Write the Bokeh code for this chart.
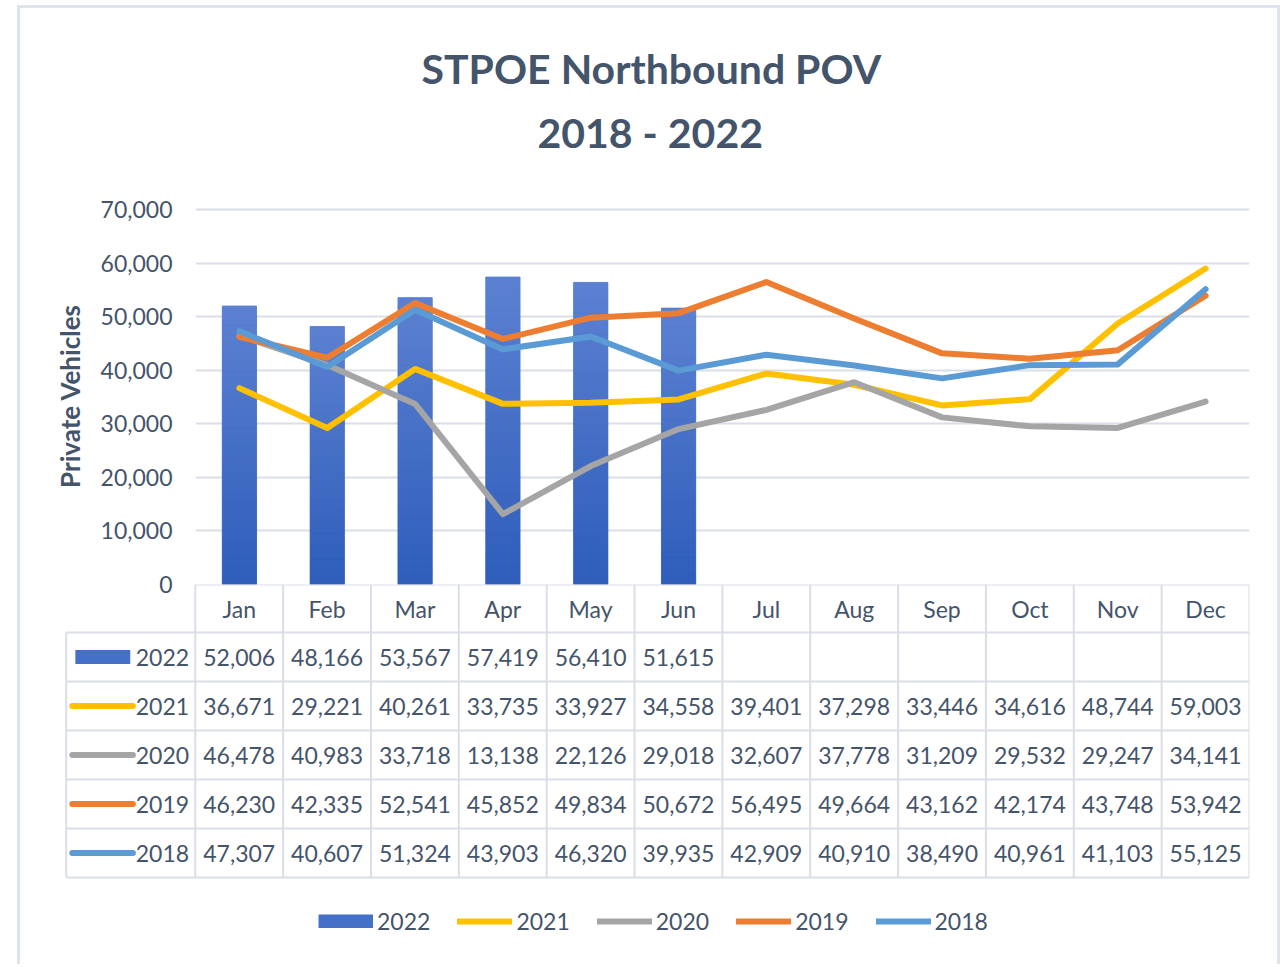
from bokeh.plotting import figure
from bokeh.models import Range1d, FixedTicker, NumeralTickFormatter, Title, Legend, LegendItem
from bokeh.layouts import column
from bokeh.embed import file_html
from bokeh.resources import INLINE
from bokeh.core.properties import value

# ---------------- data ----------------
months = ["Jan", "Feb", "Mar", "Apr", "May", "Jun", "Jul", "Aug", "Sep", "Oct", "Nov", "Dec"]
years = ["2022", "2021", "2020", "2019", "2018"]
v2022 = [52006, 48166, 53567, 57419, 56410, 51615]
v2021 = [36671, 29221, 40261, 33735, 33927, 34558, 39401, 37298, 33446, 34616, 48744, 59003]
v2020 = [46478, 40983, 33718, 13138, 22126, 29018, 32607, 37778, 31209, 29532, 29247, 34141]
v2019 = [46230, 42335, 52541, 45852, 49834, 50672, 56495, 49664, 43162, 42174, 43748, 53942]
v2018 = [47307, 40607, 51324, 43903, 46320, 39935, 42909, 40910, 38490, 40961, 41103, 55125]
y_ticks = [0, 10000, 20000, 30000, 40000, 50000, 60000, 70000]
series = [v2022, v2021, v2020, v2019, v2018]

# ---------------- style ----------------
FONT = "Lato"
TXT = "#44546a"
GRID = "#d9dee7"
BORDER = "3px solid #dfe4ec"
BAR = "#4470c8"
BAR_TOP = (0x5c, 0x81, 0xd1)
BAR_BOTTOM = (0x2e, 0x5d, 0xbb)
LINE_COLORS = {"2021": "#ffc000", "2020": "#a5a5a5", "2019": "#ed7d31", "2018": "#5b9bd5"}
W = 1257
FS = "23px"

xs = [i + 0.5 for i in range(len(months))]

# ---------------- chart ----------------
fa = figure(width=W, height=596, x_range=Range1d(0, 12), y_range=Range1d(0, 70400),
            output_backend="svg", toolbar_location=None, x_axis_location=None,
            min_border_left=175, min_border_right=28, min_border_top=199, min_border_bottom=20)
fa.outline_line_color = None
fa.background_fill_color = "white"
fa.border_fill_color = "white"

# spacer between plot area and subtitle, then subtitle, then main title
fa.add_layout(Title(text=" ", text_font_size="1px", standoff=41), "above")
fa.add_layout(Title(text="2018 - 2022", align="left", offset=342, text_font=FONT,
                    text_font_size="41px", text_font_style="bold", text_color=TXT,
                    standoff=13), "above")
fa.add_layout(Title(text="STPOE Northbound POV", align="left", offset=226, text_font=FONT,
                    text_font_size="41px", text_font_style="bold", text_color=TXT,
                    standoff=13), "above")

# 2022 bars: solid base, then a vertical gradient (light top, dark bottom) built from bands
fa.vbar(x=xs[:len(v2022)], top=v2022, width=0.39, fill_color=BAR, line_color=None)
N_BANDS = 30
bx, bbot, btop, bcol = [], [], [], []
for x, v in zip(xs, v2022):
    for k in range(N_BANDS):
        t = (k + 0.5) / N_BANDS  # 0 bottom -> 1 top
        c = tuple(int(round(BAR_BOTTOM[j] + (BAR_TOP[j] - BAR_BOTTOM[j]) * t)) for j in range(3))
        bx.append(x)
        bbot.append(v * k / N_BANDS)
        btop.append(v * (k + 1) / N_BANDS)
        bcol.append("#%02x%02x%02x" % c)
fa.vbar(x=bx, bottom=bbot, top=btop, width=0.39, fill_color=bcol, line_color=bcol, line_width=0.8)

for yr, vals in zip(years[1:], series[1:]):
    fa.line(x=xs, y=vals, line_color=LINE_COLORS[yr], line_width=6,
            line_join="round", line_cap="round")

fa.xgrid.visible = False
fa.ygrid.ticker = FixedTicker(ticks=y_ticks)
fa.ygrid.grid_line_color = GRID
fa.ygrid.grid_line_width = 2
fa.yaxis.ticker = FixedTicker(ticks=y_ticks)
fa.yaxis.formatter = NumeralTickFormatter(format="0,0")
fa.yaxis.axis_line_color = None
fa.yaxis.major_tick_line_color = None
fa.yaxis.minor_tick_line_color = None
fa.yaxis.major_label_standoff = 17
fa.yaxis.major_label_text_font = FONT
fa.yaxis.major_label_text_font_size = FS
fa.yaxis.major_label_text_color = TXT
fa.yaxis.axis_label = "Private Vehicles"
fa.yaxis.axis_label_text_font = FONT
fa.yaxis.axis_label_text_font_style = "bold"
fa.yaxis.axis_label_text_font_size = "26px"
fa.yaxis.axis_label_text_color = TXT
fa.yaxis.axis_label_standoff = 12

# ---------------- data table ----------------
HEADER_H = 48
ROW_H = 49
TABLE_LEFT = -1.469
n_rows = len(years)
table_bottom = HEADER_H + ROW_H * n_rows
FRAME_H = 380

fb = figure(width=W, height=FRAME_H + 20, x_range=Range1d(-1.5, 12), y_range=Range1d(FRAME_H, 0),
            output_backend="svg", toolbar_location=None, x_axis_location=None, y_axis_location=None,
            min_border_left=43, min_border_right=28, min_border_top=20, min_border_bottom=0)
fb.outline_line_color = None
fb.grid.visible = False
fb.border_fill_alpha = 0
fb.background_fill_alpha = 0

# horizontal borders
hx0 = [0] + [TABLE_LEFT] * (n_rows + 1)
hx1 = [12] * (n_rows + 2)
hy = [0] + [HEADER_H + ROW_H * k for k in range(n_rows + 1)]
fb.segment(x0=hx0, y0=hy, x1=hx1, y1=hy, line_color=GRID, line_width=2)
# vertical borders
vx = list(range(len(months) + 1)) + [TABLE_LEFT]
vy0 = [0] * (len(months) + 1) + [HEADER_H]
vy1 = [table_bottom] * (len(months) + 2)
fb.segment(x0=vx, y0=vy0, x1=vx, y1=vy1, line_color=GRID, line_width=2)

# month headers
fb.text(x=xs, y=[HEADER_H / 2] * len(months), text=months, text_align="center",
        text_baseline="middle", text_font=value(FONT), text_font_size=FS, text_color=TXT)

# values
for r, vals in enumerate(series):
    yc = HEADER_H + ROW_H * (r + 0.5)
    fb.text(x=xs[:len(vals)], y=[yc] * len(vals), text=[f"{v:,}" for v in vals],
            text_align="center", text_baseline="middle", text_font=value(FONT),
            text_font_size=FS, text_color=TXT)

# row labels + swatches
row_c = [HEADER_H + ROW_H * (r + 0.5) for r in range(n_rows)]
fb.text(x=[-0.07] * n_rows, y=row_c, text=years, text_align="right", text_baseline="middle",
        text_font=value(FONT), text_font_size=FS, text_color=TXT)

legend_renderers = []
rb = fb.segment(x0=[-1.365], y0=[row_c[0]], x1=[-0.74], y1=[row_c[0]],
                line_color=BAR, line_width=14, line_cap="butt")
legend_renderers.append(rb)
for r, yr in enumerate(years[1:], start=1):
    rl = fb.segment(x0=[-1.40], y0=[row_c[r]], x1=[-0.71], y1=[row_c[r]],
                    line_color=LINE_COLORS[yr], line_width=6, line_cap="round")
    legend_renderers.append(rl)

legend = Legend(items=[LegendItem(label=yr, renderers=[rr]) for yr, rr in zip(years, legend_renderers)],
                orientation="horizontal", location=(255, 29), glyph_width=55, glyph_height=14,
                label_standoff=4, spacing=27, padding=0, margin=0, border_line_color=None,
                background_fill_alpha=0, label_text_font=FONT, label_text_font_size=FS,
                label_text_color=TXT)
fb.add_layout(legend)

top_block = column(fa, margin=(5, 0, 0, 17),
                   styles={"border-top": BORDER, "border-left": BORDER, "border-right": BORDER})
bottom_block = column(fb, margin=(-40, 0, 0, 17),
                      styles={"border-left": BORDER, "border-right": BORDER})

open("out.html", "w").write(file_html([top_block, bottom_block], INLINE))
